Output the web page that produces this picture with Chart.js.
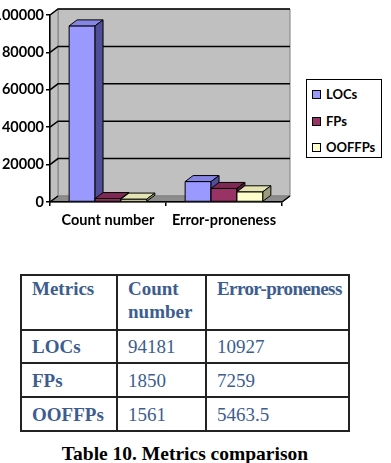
<!DOCTYPE html>
<html>
<head>
<meta charset="utf-8">
<script src="https://cdn.jsdelivr.net/npm/chart.js@4.4.1/dist/chart.umd.min.js"></script>
<style>
  body { margin: 0; width: 391px; height: 463px; background: #fff; position: relative; overflow: hidden; }
  #wrap { position: absolute; left: 0; top: 0; width: 391px; height: 240px; }
  #legend { position: absolute; left: 306px; top: 79px; width: 74px; height: 77px; border: 1.5px solid #000;
            background: #fff; font: bold 13px Lato, sans-serif; color: #000; }
  .item { position: absolute; left: 5px; height: 16px; line-height: 16px; white-space: nowrap; }
  .sw { display: inline-block; width: 7px; height: 7px; border: 1px solid #000; margin-right: 5px; vertical-align: 0px; }
  table { position: absolute; left: 20px; top: 274px; width: 328px; border-collapse: collapse; table-layout: fixed;
          font: 19px "Liberation Serif", "Times New Roman", serif; color: #3d5d8f; }
  td { box-sizing: border-box; border: 2px solid #222; padding: 0 0 0 10px; vertical-align: middle; line-height: 23px; white-space: nowrap; }
  tr.head td { vertical-align: top; padding-top: 1px; height: 55px; }
  td.b { font-weight: bold; }
  td.tight { letter-spacing: -0.6px; }
  #caption { position: absolute; left: 0; width: 370px; top: 443px; text-align: center;
             font: bold 19.5px "Liberation Serif", "Times New Roman", serif; color: #000; }
</style>
</head>
<body>
<div id="wrap"><canvas id="chart"></canvas></div>
<div id="legend"></div>
<table id="tbl"></table>
<div id="caption">Table 10. Metrics comparison</div>
<script>
// ── Data ──
const categories  = ['Count number', 'Error-proneness'];
const seriesNames = ['LOCs', 'FPs', 'OOFFPs'];
const locs   = [94181, 10927];
const fps    = [1850, 7259];
const ooffps = [1561, 5463.5];
const yTicks = [0, 20000, 40000, 60000, 80000, 100000];
const tableHead = ['Metrics', 'Count<br>number', 'Error-proneness'];

// ── Styles ──
const FACES = [
  ['#9999ff', '#8585e6', '#4f4f99'],
  ['#993366', '#7d2953', '#4d1a33'],
  ['#ffffcc', '#e3e3b3', '#9c9c7c'],
];
const DX = 8, DY = -6;
const FONT = { family: 'Lato', size: 14.5, weight: 'bold' };

function poly(ctx, pts, fill, stroke) {
  ctx.beginPath();
  pts.forEach((p, i) => i ? ctx.lineTo(p[0], p[1]) : ctx.moveTo(p[0], p[1]));
  ctx.closePath();
  ctx.fillStyle = fill;
  ctx.fill();
  ctx.lineWidth = 1;
  ctx.strokeStyle = stroke || '#000';
  ctx.stroke();
}

// ── 3D walls and floor behind the plot ──
const wall3d = {
  id: 'wall3d',
  beforeDraw(chart) {
    const { ctx, chartArea: a, scales: { y } } = chart;
    ctx.save();
    poly(ctx, [[a.left + DX, a.top + DY], [a.right + DX, a.top + DY], [a.right + DX, a.bottom + DY], [a.left + DX, a.bottom + DY]], '#c0c0c0', '#808080');
    poly(ctx, [[a.left, a.bottom], [a.left, a.top], [a.left + DX, a.top + DY], [a.left + DX, a.bottom + DY]], '#c0c0c0', '#808080');
    poly(ctx, [[a.left, a.bottom], [a.right, a.bottom], [a.right + DX, a.bottom + DY], [a.left + DX, a.bottom + DY]], '#8c8c8c', '#808080');
    ctx.strokeStyle = '#000';
    ctx.lineWidth = 1.5;
    yTicks.forEach(v => {
      const py = y.getPixelForValue(v);
      ctx.beginPath();
      ctx.moveTo(a.left, py);
      ctx.lineTo(a.left + DX, py + DY);
      if (v > 0) ctx.lineTo(a.right + DX, py + DY);
      ctx.stroke();
    });
    ctx.beginPath();
    ctx.moveTo(a.right, a.bottom);
    ctx.lineTo(a.right + DX, a.bottom + DY);
    ctx.stroke();
    ctx.restore();
  }
};

// ── 3D bar faces, drawn left to right so neighbours overlap properly ──
const bars3d = {
  id: 'bars3d',
  afterDatasetsDraw(chart) {
    const ctx = chart.ctx;
    ctx.save();
    categories.forEach((c, i) => {
      chart.data.datasets.forEach((ds, d) => {
        const el = chart.getDatasetMeta(d).data[i];
        const { x, y, base, width } = el.getProps(['x', 'y', 'base', 'width'], true);
        const l = x - width / 2, r = x + width / 2;
        const [front, top, side] = FACES[d];
        poly(ctx, [[l, base], [l, y], [r, y], [r, base]], front);
        poly(ctx, [[l, y], [l + DX, y + DY], [r + DX, y + DY], [r, y]], top);
        poly(ctx, [[r, y], [r + DX, y + DY], [r + DX, base + DY], [r, base]], side);
      });
    });
    ctx.restore();
  }
};

const series = [locs, fps, ooffps];

new Chart(document.getElementById('chart'), {
  type: 'bar',
  data: {
    labels: categories,
    datasets: series.map((s, i) => ({
      label: seriesNames[i],
      data: s,
      backgroundColor: FACES[i][0],
      borderColor: '#000',
      borderWidth: 0,
      categoryPercentage: 0.67,
      barPercentage: 1,
    })),
  },
  options: {
    responsive: true,
    maintainAspectRatio: false,
    animation: false,
    layout: { padding: { top: 15, right: 109, left: 0, bottom: 0 } },
    plugins: { legend: { display: false }, tooltip: { enabled: false } },
    scales: {
      x: {
        afterFit: s => { s.height = 38; },
        grid: { offset: true, drawOnChartArea: false, tickLength: 4, color: '#000', lineWidth: 1.5 },
        border: { color: '#000', width: 1.5 },
        ticks: { color: '#000', font: FONT, padding: 6, maxRotation: 0 },
      },
      y: {
        min: 0, max: 100000,
        afterFit: s => { s.width = 50; },
        afterBuildTicks: s => { s.ticks = yTicks.map(v => ({ value: v })); },
        grid: { drawOnChartArea: false, tickLength: 4, color: '#000', lineWidth: 1.5 },
        border: { color: '#000', width: 1.5 },
        ticks: { color: '#000', font: FONT, padding: 2, callback: v => String(v) },
      },
    },
  },
  plugins: [wall3d, bars3d],
});

// ── HTML legend ──
const legend = document.getElementById('legend');
seriesNames.forEach((n, i) => {
  const d = document.createElement('div');
  d.className = 'item';
  d.style.top = (6 + i * 26.5) + 'px';
  d.innerHTML = '<span class="sw" style="background:' + FACES[i][0] + '"></span>' + n;
  legend.appendChild(d);
});

// ── Table ──
const tbl = document.getElementById('tbl');
const widths = [96, 89, 143];
let html = '<tr class="head">' + tableHead.map((h, j) =>
  '<td class="b' + (j === 2 ? ' tight' : '') + '" style="width:' + widths[j] + 'px">' + h + '</td>').join('') + '</tr>';
seriesNames.forEach((n, i) => {
  html += '<tr style="height:' + (i ? 34 : 33) + 'px"><td class="b">' + n + '</td><td>' +
          series[i][0] + '</td><td>' + series[i][1] + '</td></tr>';
});
tbl.innerHTML = html;
</script>
</body>
</html>
